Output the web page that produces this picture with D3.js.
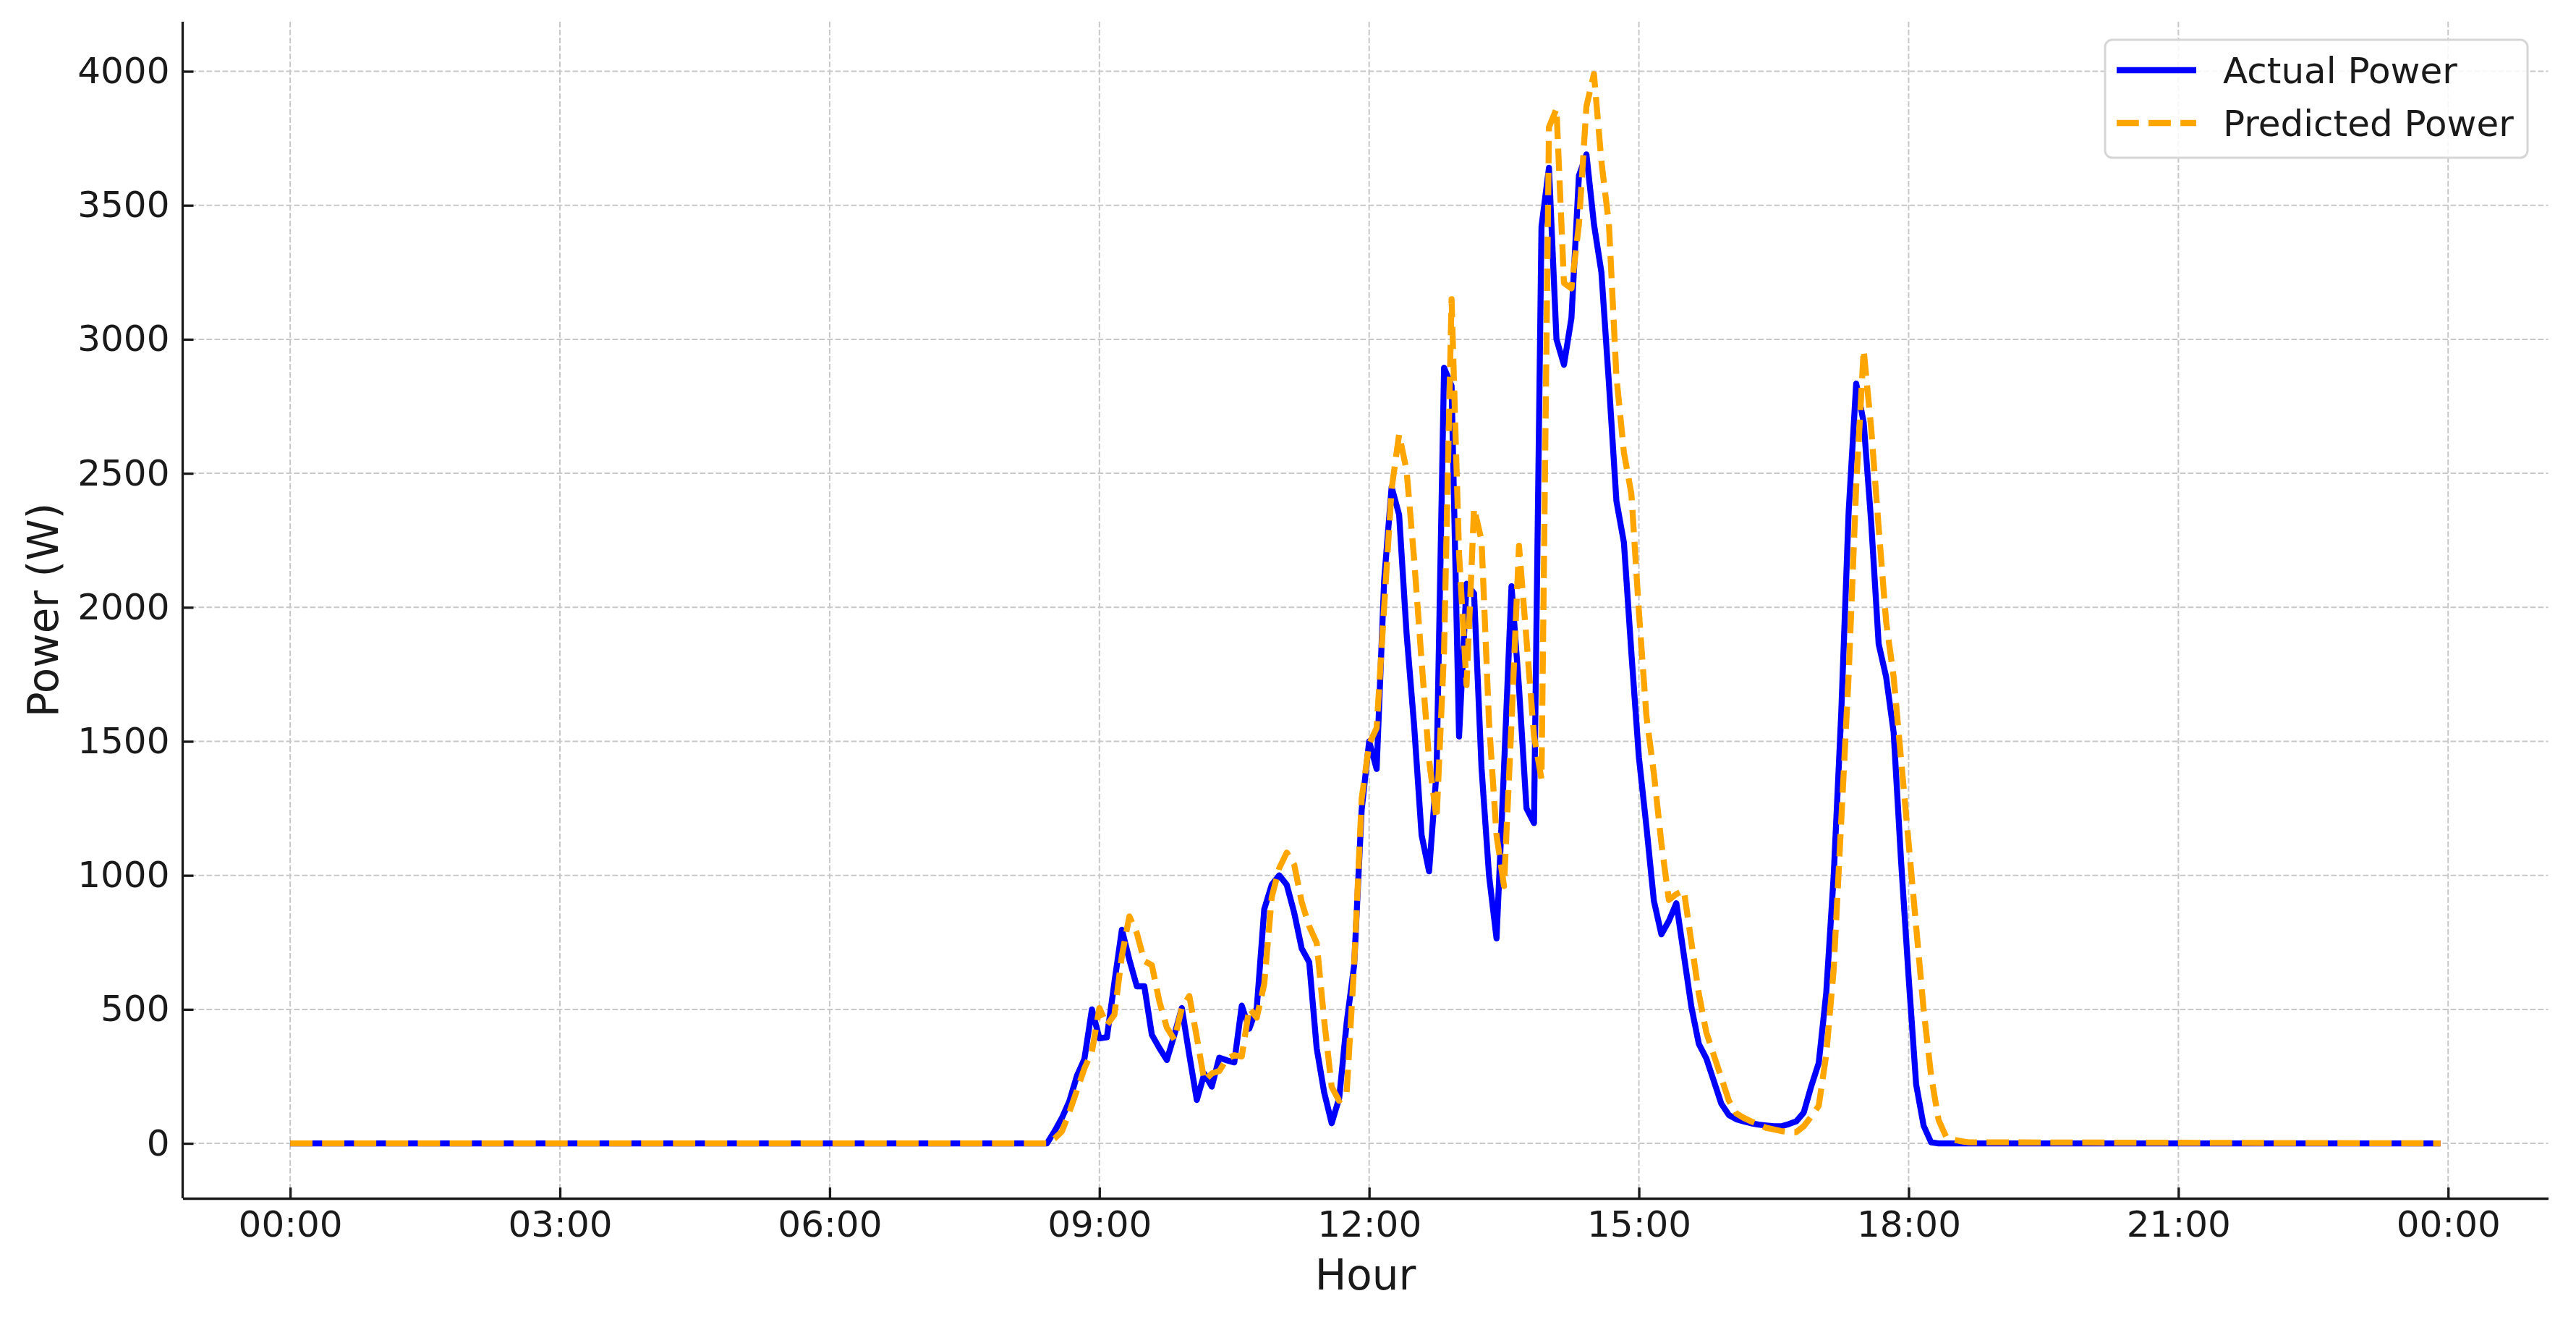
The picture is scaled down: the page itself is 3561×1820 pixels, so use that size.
<!DOCTYPE html>
<html>
<head>
<meta charset="utf-8">
<script src="https://cdn.jsdelivr.net/npm/d3@7"></script>
<style>
  body { margin: 0; background: #fff; }
  text { font-family: "DejaVu Sans", sans-serif; fill: #1a1a1a; }
</style>
</head>
<body>
<div id="chart"></div>
<script>
// 5 minute readings, night hours are flat zero
var times = ["00:00",
  "08:25","08:30","08:35","08:40","08:45","08:50","08:55",
  "09:00","09:05","09:10","09:15","09:20","09:25","09:30","09:35","09:40","09:45","09:50","09:55",
  "10:00","10:05","10:10","10:15","10:20","10:25","10:30","10:35","10:40","10:45","10:50","10:55",
  "11:00","11:05","11:10","11:15","11:20","11:25","11:30","11:35","11:40","11:45","11:50","11:55",
  "12:00","12:05","12:10","12:15","12:20","12:25","12:30","12:35","12:40","12:45","12:50","12:55",
  "13:00","13:05","13:10","13:15","13:20","13:25","13:30","13:35","13:40","13:45","13:50","13:55",
  "14:00","14:05","14:10","14:15","14:20","14:25","14:30","14:35","14:40","14:45","14:50","14:55",
  "15:00","15:05","15:10","15:15","15:20","15:25","15:30","15:35","15:40","15:45","15:50","15:55",
  "16:00","16:05","16:10","16:15","16:20","16:25","16:30","16:35","16:40","16:45","16:50","16:55",
  "17:00","17:05","17:10","17:15","17:20","17:25","17:30","17:35","17:40","17:45","17:50","17:55",
  "18:00","18:05","18:10","18:15","18:20","18:25","18:30","18:35","18:40",
  "23:55"];

var actualPower = [0,
  0,45,95,158,252,315,500,
  392,396,600,797,685,586,586,405,356,311,405,505,
  329,162,260,212,320,310,302,514,428,505,874,965,
  1000,965,860,727,676,355,190,75,169,450,665,1244,
  1500,1397,2100,2449,2345,1900,1560,1150,1015,1388,2894,2826,
  1518,2088,2052,1400,1000,765,1400,2079,1700,1250,1195,3420,
  3640,3000,2905,3080,3611,3690,3430,3249,2836,2397,2242,1829,
  1441,1183,905,780,830,896,703,510,371,317,233,148,
  106,90,82,75,70,67,64,64,72,82,115,213,
  300,560,1000,1600,2359,2835,2690,2318,1863,1740,1533,1050,
  620,220,66,4,0,0,0,0,0,
  0];

var predictedPower = [0,
  0,18,45,117,198,280,342,
  505,441,480,700,847,784,680,665,530,432,387,505,
  550,396,234,261,270,315,329,324,505,469,595,919,
  1027,1085,1040,900,810,748,459,211,159,190,665,1285,
  1490,1550,2000,2442,2645,2510,2180,1800,1430,1210,1840,3150,
  2200,1710,2370,2250,1570,1150,960,1570,2230,1880,1520,1360,
  3792,3860,3210,3190,3430,3869,3990,3663,3430,2862,2578,2423,
  1984,1596,1380,1120,908,930,944,751,558,414,329,245,
  160,112,95,82,70,58,52,46,42,42,64,100,
  140,330,650,1200,1750,2450,2960,2669,2297,1946,1740,1430,
  1120,810,500,252,87,25,14,8,4,
  0];

var seriesNames = ["Actual Power", "Predicted Power"];
var yTicks = [0, 500, 1000, 1500, 2000, 2500, 3000, 3500, 4000];

var width = 3561, height = 1820;
var plotLeft = 252.5, plotRight = 3522.5, plotTop = 30, plotBottom = 1656;

var parseTime = d3.utcParse("%Y-%m-%d %H:%M");
var fmt = d3.utcFormat("%H:%M");
var dates = times.map(function(t) { return parseTime("2024-01-01 " + t); });

// matplotlib style 5% margin on both axes
var t0 = dates[0], t1 = dates[dates.length - 1];
var pad = (t1 - t0) * 0.05;

var x = d3.scaleUtc()
  .domain([new Date(+t0 - pad), new Date(+t1 + pad)])
  .range([plotLeft, plotRight]);

var y = d3.scaleLinear()
  .domain([-205, 4185])
  .range([plotBottom, plotTop]);

var svg = d3.select("#chart")
  .append("svg")
  .attr("width", width)
  .attr("height", height);

svg.append("rect").attr("width", width).attr("height", height).attr("fill", "#fff");

var xTicks = x.ticks(d3.utcHour.every(3));

// grid
var grid = svg.append("g").attr("class", "grid")
  .attr("stroke", "#c8c8c8")
  .attr("stroke-width", 2)
  .attr("stroke-dasharray", "7.7,3.3");

grid.selectAll(".hgrid")
  .data(yTicks)
  .enter()
  .append("line")
  .attr("x1", plotLeft).attr("x2", plotRight)
  .attr("y1", function(d) { return y(d); })
  .attr("y2", function(d) { return y(d); });

grid.selectAll(".vgrid")
  .data(xTicks)
  .enter()
  .append("line")
  .attr("y1", plotTop).attr("y2", plotBottom)
  .attr("x1", function(d) { return x(d); })
  .attr("x2", function(d) { return x(d); });

var actualData = dates.map(function(d, i) { return {t: d, v: actualPower[i]}; });
var predictedData = dates.map(function(d, i) { return {t: d, v: predictedPower[i]}; });

var line = d3.line()
  .x(function(d) { return x(d.t); })
  .y(function(d) { return y(d.v); });

svg.append("path")
  .datum(actualData)
  .attr("fill", "none")
  .attr("stroke", "#0000ff")
  .attr("stroke-width", 8.3)
  .attr("stroke-linejoin", "round")
  .attr("d", line);

svg.append("path")
  .datum(predictedData)
  .attr("fill", "none")
  .attr("stroke", "#ffa500")
  .attr("stroke-width", 8.3)
  .attr("stroke-linejoin", "round")
  .attr("stroke-dasharray", "30.8,13.3")
  .attr("d", line);

// axes, ticks point inward
var yAxis = svg.append("g")
  .attr("transform", "translate(" + plotLeft + ",0)")
  .call(d3.axisLeft(y).tickValues(yTicks).tickFormat(d3.format("d"))
    .tickSizeInner(-15).tickSizeOuter(0).tickPadding(18));

var xAxis = svg.append("g")
  .attr("transform", "translate(0," + plotBottom + ")")
  .call(d3.axisBottom(x).tickValues(xTicks).tickFormat(fmt)
    .tickSizeInner(-15).tickSizeOuter(0).tickPadding(17));

[xAxis, yAxis].forEach(function(ax) {
  ax.select(".domain").attr("stroke", "#1a1a1a").attr("stroke-width", 3.3);
  ax.selectAll(".tick line").attr("stroke", "#1a1a1a").attr("stroke-width", 3.3);
  ax.selectAll(".tick text")
    .attr("font-size", "50px")
    .attr("font-family", "DejaVu Sans")
    .attr("fill", "#1a1a1a");
});

// extend left spine to meet the bottom one at the corner
yAxis.select(".domain").attr("d", "M0," + plotTop + "V" + plotBottom);

svg.append("text")
  .attr("x", (plotLeft + plotRight) / 2)
  .attr("y", 1782)
  .attr("text-anchor", "middle")
  .attr("font-size", "58px")
  .text("Hour");

svg.append("text")
  .attr("transform", "translate(80," + ((plotTop + plotBottom) / 2) + ") rotate(-90)")
  .attr("text-anchor", "middle")
  .attr("font-size", "58px")
  .text("Power (W)");

// legend
var legend = svg.append("g").attr("transform", "translate(2910,55)");

legend.append("rect")
  .attr("width", 584)
  .attr("height", 163)
  .attr("rx", 10)
  .attr("fill", "#fff")
  .attr("fill-opacity", 0.85)
  .attr("stroke", "#d6d6d6")
  .attr("stroke-width", 3);

var legendStyle = [
  {color: "#0000ff", dash: null},
  {color: "#ffa500", dash: "30.8,13.3"}
];

seriesNames.forEach(function(name, i) {
  var ly = 42 + i * 73;
  legend.append("line")
    .attr("x1", 16).attr("x2", 126)
    .attr("y1", ly).attr("y2", ly)
    .attr("stroke", legendStyle[i].color)
    .attr("stroke-width", 8.3)
    .attr("stroke-dasharray", legendStyle[i].dash);
  legend.append("text")
    .attr("x", 163)
    .attr("y", ly)
    .attr("dy", "0.35em")
    .attr("font-size", "50px")
    .text(name);
});
</script>
</body>
</html>
